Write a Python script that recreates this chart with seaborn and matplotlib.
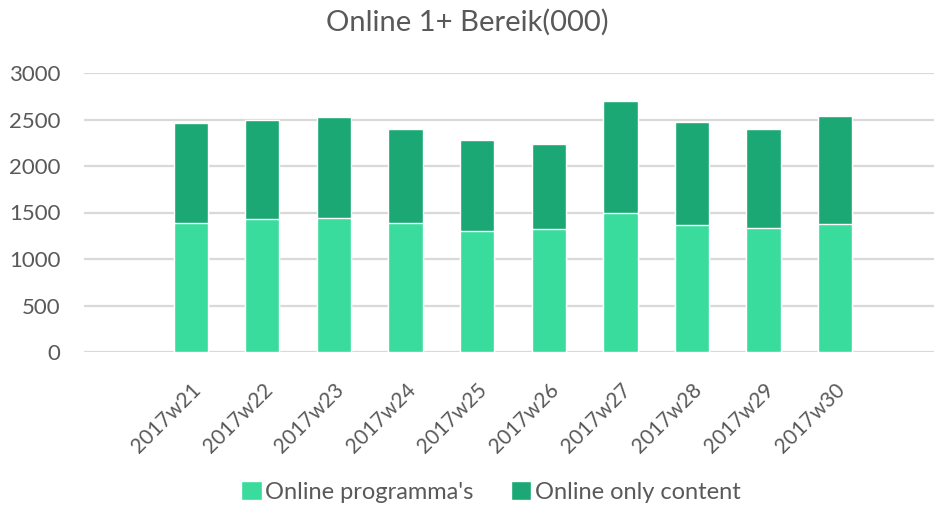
#! /usr/bin/env python3
'''
Online 1+ Bereik(000): stacked bars per week
'''
import matplotlib
matplotlib.use('Agg')
import matplotlib.pyplot as plt
from matplotlib.patches import Patch
import seaborn as sns

weeks = ["2017w21", "2017w22", "2017w23", "2017w24", "2017w25",
         "2017w26", "2017w27", "2017w28", "2017w29", "2017w30"]
programmas = [1391, 1427, 1445, 1387, 1298, 1327, 1495, 1362, 1330, 1373]
only_content = [1076, 1064, 1086, 1015, 980, 914, 1208, 1111, 1068, 1165]
totals = [p + o for p, o in zip(programmas, only_content)]

LIGHT = "#3adc9d"; DARK = "#1ba874"; TXT = "#595959"

sns.set_style("white")
plt.rcParams['font.family'] = ['Lato', 'DejaVu Sans']

fig = plt.figure(figsize=(9.34, 5.07), dpi=100)
ax = fig.add_axes([84 / 934, 1 - 352 / 507, 1 - 84 / 934, (352 - 73) / 507])

# total first (dark), light part drawn on top
sns.barplot(x=weeks, y=totals, color=DARK, width=0.48, saturation=1, ax=ax, zorder=3)
sns.barplot(x=weeks, y=programmas, color=LIGHT, width=0.48, saturation=1, ax=ax, zorder=3)

ax.set_ylim(0, 3000)
ax.set_xlim(-1.49, 10.38)
ax.set_yticks(range(0, 3001, 500))
ax.yaxis.grid(True, color="#d9d9d9", linewidth=1.6, zorder=0)
ax.set_axisbelow(True)
for s in ax.spines.values():
    s.set_visible(False)
ax.tick_params(axis='both', length=0, labelsize=16, labelcolor=TXT)
ax.tick_params(axis='y', pad=17)
ax.tick_params(axis='x', pad=20, labelsize=15)
plt.setp(ax.get_xticklabels(), rotation=45, ha='right', rotation_mode='anchor')

fig.suptitle("Online 1+ Bereik(000)", y=1 - 22 / 507, va='center', fontsize=21, color=TXT)

handles = [Patch(facecolor=LIGHT, label="Online programma's"),
           Patch(facecolor=DARK, label="Online only content")]
fig.legend(handles=handles, loc='center', bbox_to_anchor=(491 / 934, 1 - 492 / 507), ncol=2,
           frameon=False, fontsize=17, labelcolor=TXT, handlelength=0.85, handleheight=0.85,
           handletextpad=0.15, columnspacing=1.6)

fig.savefig("out.png", dpi=100)
